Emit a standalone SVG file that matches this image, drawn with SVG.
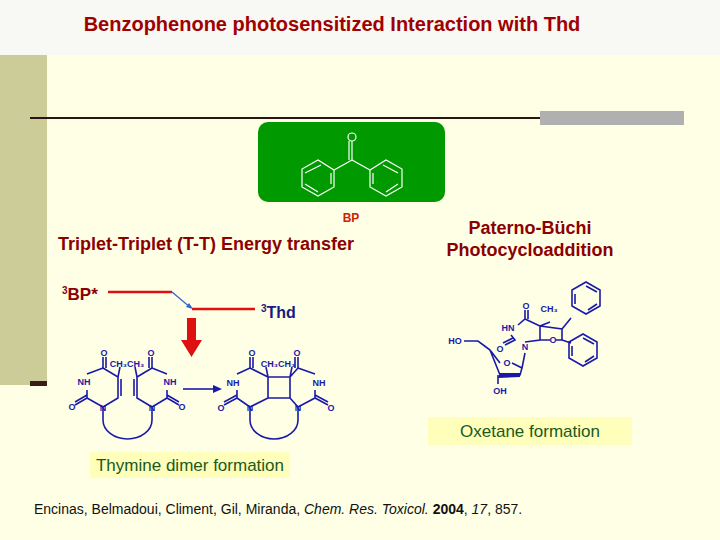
<svg xmlns="http://www.w3.org/2000/svg" width="720" height="540" viewBox="0 0 720 540">
<style>
.t{font-family:"Liberation Sans",Arial,sans-serif}
.b{stroke:#1a1aa8;stroke-width:1.6;fill:none}
.bl{font-family:"Liberation Sans",Arial,sans-serif;font-size:9px;font-weight:bold;fill:#1a1aa8}
.w{stroke:#fff;stroke-width:1.2;fill:none}
.red{font-family:"Liberation Sans",Arial,sans-serif;font-weight:bold;fill:#8b0000}
</style>
<rect width="720" height="540" fill="#ffffe6"/>
<rect width="720" height="55" fill="#f8f8f4"/>
<rect x="0" y="55" width="47" height="330" fill="#cccc99"/>
<rect x="30" y="381" width="17" height="5" fill="#3a1a1a"/>
<line x1="30" y1="118" x2="540" y2="118" stroke="#2a1414" stroke-width="2"/>
<rect x="540" y="111" width="144" height="14" fill="#b0b0b0"/>
<text x="332" y="31" text-anchor="middle" class="red" font-size="20" style="fill:#a00000">Benzophenone photosensitized Interaction with Thd</text>
<g id="bp">
<rect x="258" y="122" width="187" height="80" rx="10" fill="#009900"/>
<path class="w" d="M352 160V141M349 160V141"/>
<circle cx="352" cy="137" r="4" class="w"/>
<path class="w" d="M352 160L334 170L318 160L302 169V187L318 196L334 187V170M352 160L370 170L386 160L402 169V187L386 196L370 187V170"/>
<path class="w" d="M321 165L305 173M305 184L318 192M331 184V173M383 165L398 173M398 184L386 192M373 184V173"/>
<text x="351" y="222" text-anchor="middle" class="red" font-size="12" style="fill:#cc2200">BP</text>
</g>
<text x="58" y="250" class="red" font-size="18">Triplet-Triplet (T-T) Energy transfer</text>
<g id="energy">
<text x="62" y="300" class="red" font-size="17"><tspan font-size="10" dy="-6">3</tspan><tspan dy="6">BP*</tspan></text>
<line x1="108" y1="292" x2="172" y2="292" stroke="#dd1111" stroke-width="2.5"/>
<line x1="172" y1="292" x2="191" y2="308" stroke="#3366cc" stroke-width="1.3"/>
<path d="M186 307L193 309L189 303Z" fill="#3366cc"/>
<line x1="192" y1="309" x2="255" y2="309" stroke="#dd1111" stroke-width="2.5"/>
<text x="261" y="318" class="t" font-weight="bold" font-size="16" fill="#1a1a80"><tspan font-size="10" dy="-6">3</tspan><tspan dy="6">Thd</tspan></text>
<path d="M187 318H196V340H202L191.5 357L181 340H187Z" fill="#dd1111"/>
</g>
<g id="dimer-left">
<path class="b" d="M103 368V357M106 368V357M103 368L118 377V398L103 407L87 398M87 398V390M87 374L103 368M87 398L75 405M87 395L75 402M103 407V420A24.5 19 0 0 0 152 420V407M152 407L167 398M152 368L137 377V398L152 407M152 368L167 374M167 398V390M167 398L179 405M167 395L179 402M149 368V357M152 368V357M121 379V396M134 379V396M118 377L120 367M137 377L135 367"/>
<text x="104" y="356" class="bl" text-anchor="middle">O</text><text x="151" y="356" class="bl" text-anchor="middle">O</text>
<text x="127" y="367" class="bl" text-anchor="middle" font-size="8">CH₃CH₃</text>
<text x="84" y="385" class="bl" text-anchor="middle">NH</text><text x="170" y="385" class="bl" text-anchor="middle">NH</text>
<text x="72" y="410" class="bl" text-anchor="middle">O</text><text x="182" y="410" class="bl" text-anchor="middle">O</text>
<text x="103" y="411" class="bl" text-anchor="middle">N</text><text x="152" y="411" class="bl" text-anchor="middle">N</text>
</g>
<g id="connectors"><line x1="183" y1="389" x2="215" y2="389" stroke="#1a1aa8" stroke-width="1.6"/><path d="M222 389L213 385V393Z" fill="#1a1aa8"/></g>
<g id="dimer-right">
<path class="b" d="M250 368V357M253 368V357M250 368L268 377V398L250 407L237 398V390M237 374L250 368M237 398L224 405M237 395L224 402M250 407V420A24 19 0 0 0 298 420V407M298 407L290 398V377L298 368M298 368L315 374M315 398V390M298 407L315 398L328 405M315 395L328 402M295 368V357M298 368V357M268 377H290M268 398H290M268 377L266 367M290 377L292 367"/>
<text x="252" y="356" class="bl" text-anchor="middle">O</text><text x="297" y="356" class="bl" text-anchor="middle">O</text>
<text x="278" y="367" class="bl" text-anchor="middle" font-size="8">CH₃CH₃</text>
<text x="233" y="386" class="bl" text-anchor="middle">NH</text><text x="319" y="386" class="bl" text-anchor="middle">NH</text>
<text x="221" y="411" class="bl" text-anchor="middle">O</text><text x="331" y="411" class="bl" text-anchor="middle">O</text>
<text x="250" y="411" class="bl" text-anchor="middle">N</text><text x="298" y="411" class="bl" text-anchor="middle">N</text>
</g>
<text x="530" y="234" text-anchor="middle" class="red" font-size="18">Paterno-Büchi</text>
<text x="530" y="256" text-anchor="middle" class="red" font-size="18">Photocycloaddition</text>
<g id="oxetane">
<path class="b" d="M464 341H478L490 350M490 350L500 363M512 363L522 368L520 375H500L490 350M522 368L525 353M525 342L540 340V326L525 319L518 325M511 335L515 340L505 345M513 338L503 343M525 319V310M528 319V310M540 326L550 322M540 326L562 329L562 340H556M550 340L540 340M562 329L571 318M562 340L571 343"/>
<path class="b" d="M498 375V384"/>
<path d="M500 373L520 373L520 377L498 378Z" fill="#1a1aa8"/>
<polygon class="b" points="583,284 597,292 597,308 583,316 569,308 569,292" transform="translate(3,-2)"/>
<polygon class="b" points="583,338 597,346 597,362 583,370 569,362 569,346" transform="translate(0,-4)"/>
<path class="b" d="M586 286L597 292M597 304L588 310M575 294V304M583 338L594 344M594 356L585 362M572 346V356"/>
<text x="455" y="344" class="bl" text-anchor="middle">HO</text>
<text x="507" y="366" class="bl" text-anchor="middle">O</text>
<text x="500" y="394" class="bl" text-anchor="middle">OH</text>
<text x="525" y="350" class="bl" text-anchor="middle">N</text>
<text x="508" y="331" class="bl" text-anchor="middle">HN</text>
<text x="500" y="352" class="bl" text-anchor="middle">O</text>
<text x="526" y="309" class="bl" text-anchor="middle">O</text>
<text x="549" y="312" class="bl" text-anchor="middle">CH₃</text>
<text x="553" y="343" class="bl" text-anchor="middle">O</text>
</g>
<g id="oxetane-label"><rect x="428" y="417" width="204" height="28" fill="#ffffbb"/>
<text x="530" y="437" text-anchor="middle" class="t" font-size="17" fill="#1a5a1a">Oxetane formation</text></g>
<g id="dimer-label"><rect x="90" y="452" width="200" height="26" fill="#ffffbb"/>
<text x="190" y="471" text-anchor="middle" class="t" font-size="17" fill="#1a5a1a">Thymine dimer formation</text></g>
<text x="34" y="514" class="t" font-size="14" fill="#111">Encinas, Belmadoui, Climent, Gil, Miranda, <tspan font-style="italic">Chem. Res. Toxicol.</tspan> <tspan font-weight="bold">2004</tspan>, <tspan font-style="italic">17</tspan>, 857.</text>
</svg>
